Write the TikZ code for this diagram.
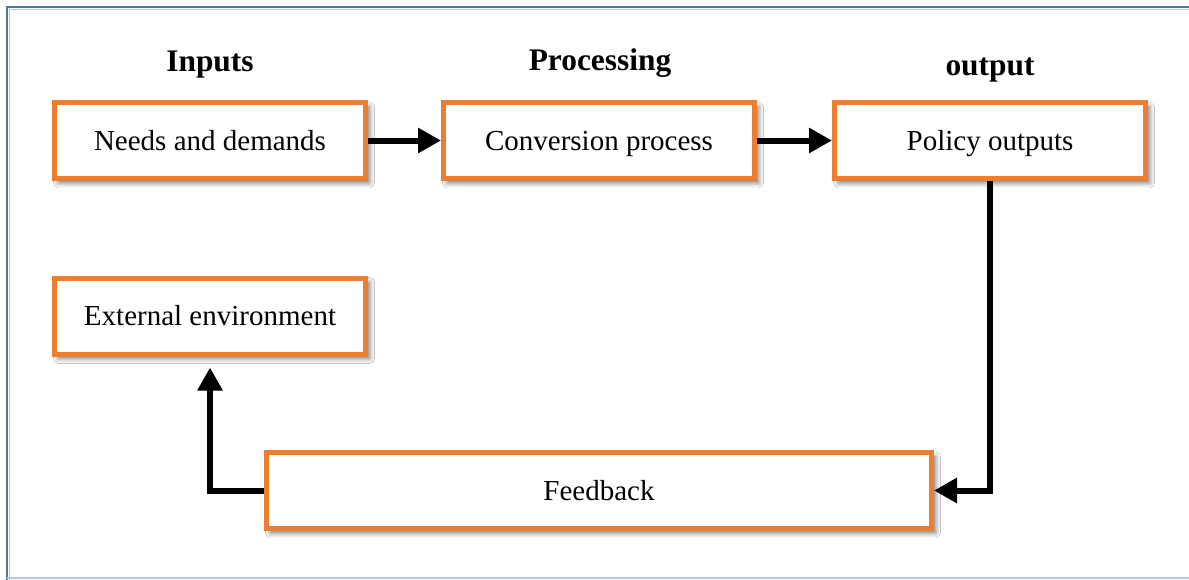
\documentclass[tikz,border=0pt]{standalone}
\usepackage{fontspec}
\setmainfont{Liberation Serif}
\usetikzlibrary{arrows.meta,shadows.blur}
\definecolor{boxorange}{HTML}{ED7D31}
\definecolor{framedark}{HTML}{4A76A8}
\definecolor{framelight}{HTML}{B4C7E7}
\tikzset{
  box/.style={draw=boxorange, line width=2.5pt, fill=white, rectangle,
    minimum width=155.5pt, minimum height=38pt, inner sep=0pt,
    text height=9.6pt, text depth=0pt,
    font=\fontsize{14.5}{17}\selectfont,
    blur shadow={shadow xshift=2pt, shadow yshift=-2.2pt, shadow blur steps=6, shadow blur radius=2.5pt, shadow opacity=55}},
  header/.style={font=\fontsize{15.7}{19}\selectfont\bfseries, anchor=base, inner sep=0pt},
  conn/.style={line width=3pt, -{Triangle[length=11.5pt,width=12pt]}}
}
\begin{document}
\begin{tikzpicture}[x=0.5pt,y=-0.5pt]
\useasboundingbox (0,0) rectangle (1189,579);
\fill[white] (0,0) rectangle (1189,579);
% frame
\draw[framedark, line width=1.2pt] (1195,7) -- (7,7) -- (7,585);
\draw[framelight, line width=0.5pt] (1195,9.8) -- (9.8,9.8) -- (9.8,585);
\draw[framelight, line width=1pt] (7,577.5) -- (1195,577.5);
% headers
\node[header] (hin) at (210,71) {Inputs};
\node[header] (hpr) at (600,70) {Processing};
\node[header] (hout) at (990,75) {output};
% boxes
\node[box] (needs) at (210,140.5) {Needs and demands};
\node[box] (conv) at (599,140.5) {Conversion process};
\node[box] (policy) at (990,140.5) {Policy outputs};
\node[box] (ext) at (210,316) {External environment};
\node[box, minimum width=332.5pt] (fb) at (599,490.5) {Feedback};
% connectors
\draw[conn] (needs.east) -- (conv.west);
\draw[conn] (conv.east) -- (policy.west);
\draw[conn] (policy.south) |- (fb.east);
\draw[conn, shorten >=5.5pt] (fb.west) -| (ext.south);
\end{tikzpicture}
\end{document}
